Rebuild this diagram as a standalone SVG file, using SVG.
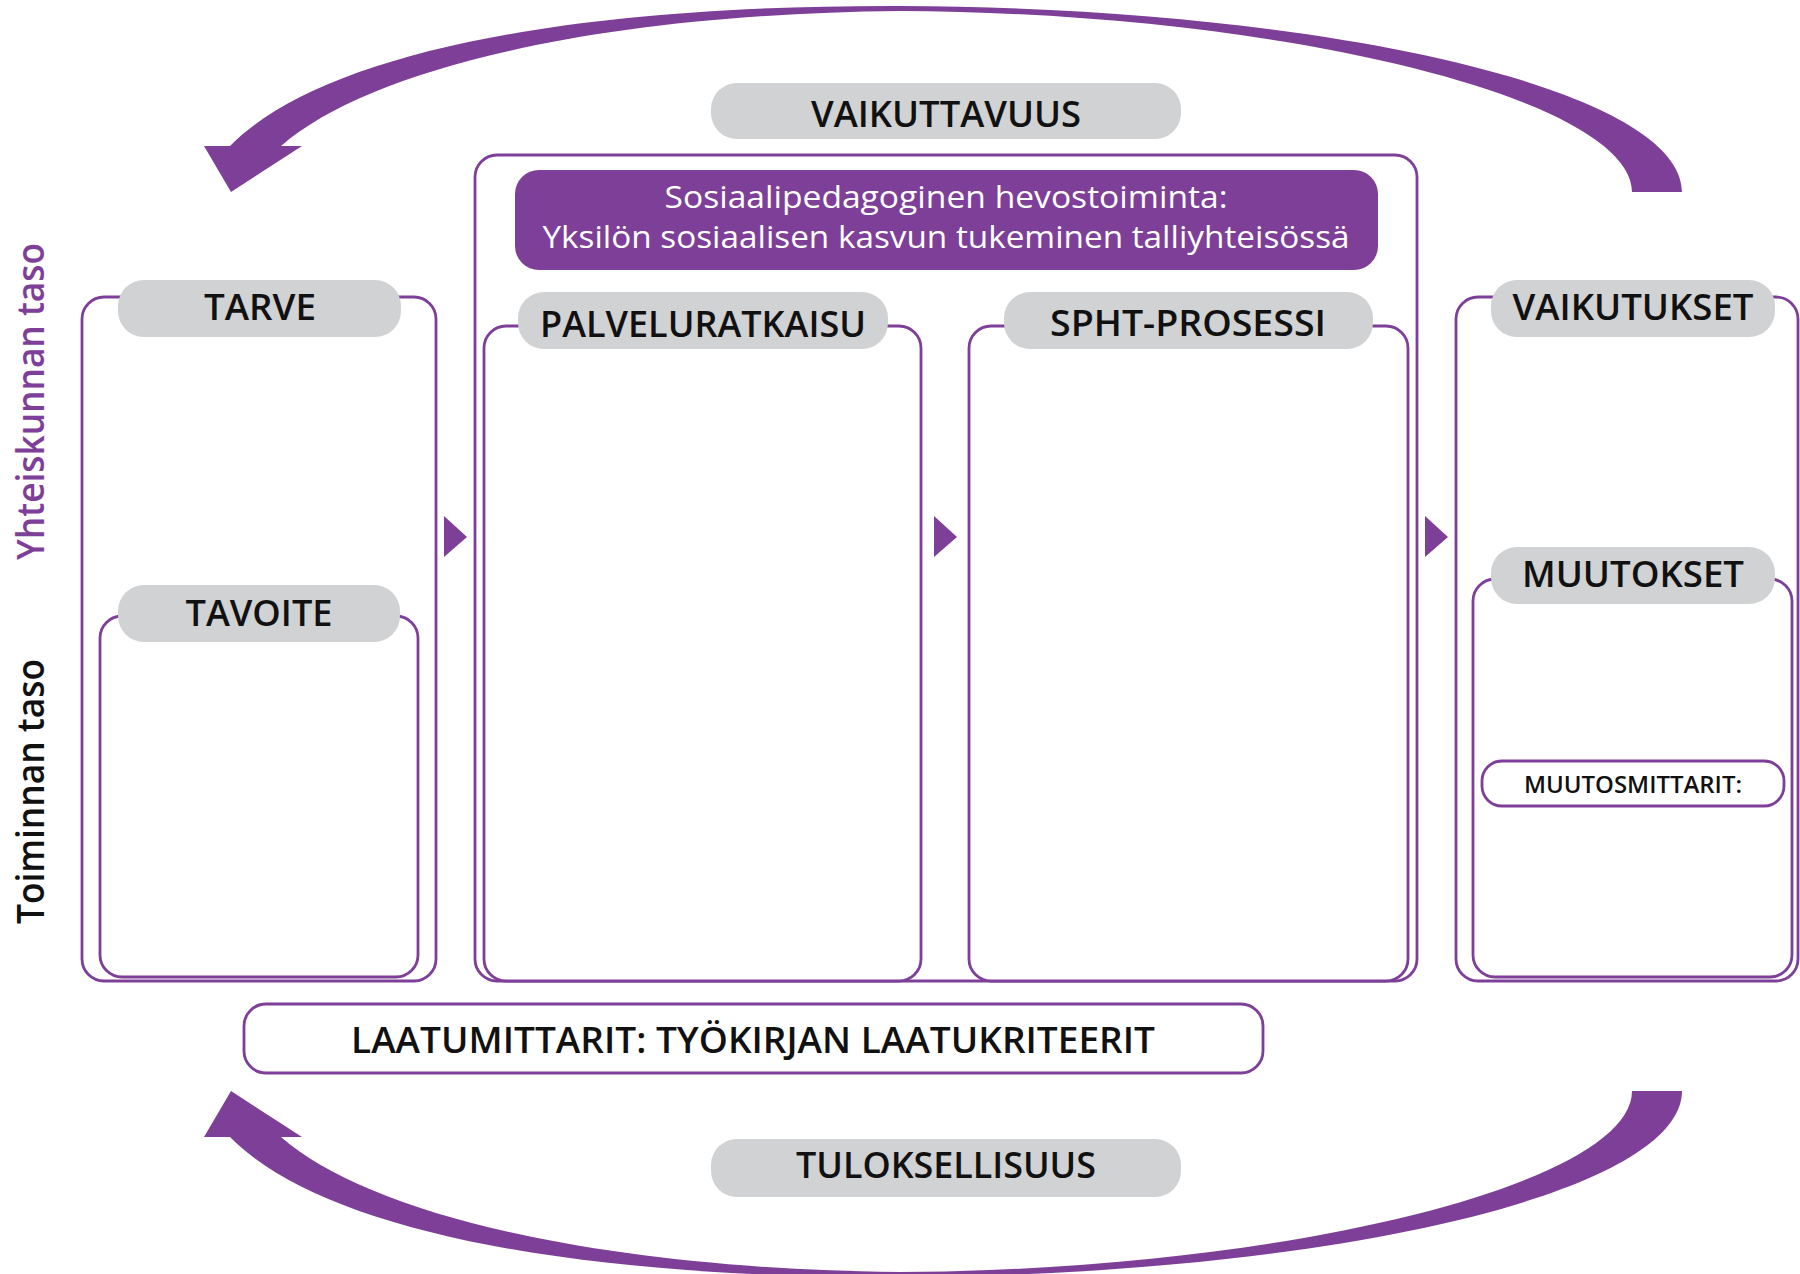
<svg xmlns="http://www.w3.org/2000/svg" xmlns:xlink="http://www.w3.org/1999/xlink" width="1800" height="1274" viewBox="0 0 1800 1274">
<style>
.frame{fill:#fff;stroke:#7E3F98;stroke-width:2.8}
.pill{fill:#D1D2D4}
.lbl{font-family:"Open Sans","Liberation Sans",sans-serif;font-weight:600;fill:#111;text-anchor:middle}
.big{font-size:36px}
.ttl{font-family:"Open Sans","Liberation Sans",sans-serif;font-size:31px;fill:#fff;text-anchor:middle}
.arr{fill:#7E3F98}
</style>
<defs>
<path id="arc" d="M 1682 192 C 1682 90 1330 8 900 6 C 560 5 320 55 230 146 L 204 146 L 231 192 L 302 146 L 281 146 C 370 68 600 14 900 11 C 1290 13 1632 100 1632 192 Z"/>
</defs>
<rect width="1800" height="1274" fill="#fff"/>

<g id="level-labels">
<text class="lbl" style="fill:#7E3F98" font-size="37" textLength="317" lengthAdjust="spacingAndGlyphs" transform="translate(44,401.5) rotate(-90)">Yhteiskunnan taso</text>
<text class="lbl" font-size="37" textLength="265" lengthAdjust="spacingAndGlyphs" transform="translate(44,791.5) rotate(-90)">Toiminnan taso</text>
</g>

<g id="vaikuttavuus">
<rect class="pill" x="711" y="83" width="470" height="56" rx="26"/>
<text class="lbl big" x="946" y="127" textLength="270" lengthAdjust="spacingAndGlyphs">VAIKUTTAVUUS</text>
</g>

<g id="tarve">
<rect class="frame" x="82" y="297" width="354" height="684" rx="22"/>
<rect class="pill" x="118" y="280" width="283" height="57" rx="26"/>
<text class="lbl big" x="260" y="320" textLength="112" lengthAdjust="spacingAndGlyphs">TARVE</text>
</g>

<g id="tavoite">
<rect class="frame" x="100" y="616" width="318" height="361" rx="22"/>
<rect class="pill" x="118" y="585" width="282" height="57" rx="26"/>
<text class="lbl big" x="259" y="626" textLength="147" lengthAdjust="spacingAndGlyphs">TAVOITE</text>
</g>

<g id="toiminta">
<rect class="frame" x="475" y="155" width="942" height="826" rx="22"/>
<rect x="515" y="170" width="863" height="100" rx="24" fill="#7E3F98"/>
<text class="ttl" x="946" y="208" textLength="563" lengthAdjust="spacingAndGlyphs">Sosiaalipedagoginen hevostoiminta:</text>
<text class="ttl" x="946" y="248" textLength="807" lengthAdjust="spacingAndGlyphs">Yksilön sosiaalisen kasvun tukeminen talliyhteisössä</text>
</g>

<g id="palveluratkaisu">
<rect class="frame" x="484" y="326" width="437" height="655" rx="22"/>
<rect class="pill" x="518" y="292" width="370" height="57" rx="26"/>
<text class="lbl big" x="703" y="337" textLength="326" lengthAdjust="spacingAndGlyphs">PALVELURATKAISU</text>
</g>

<g id="spht-prosessi">
<rect class="frame" x="969" y="326" width="439" height="655" rx="22"/>
<rect class="pill" x="1004" y="292" width="369" height="57" rx="26"/>
<text class="lbl big" x="1188" y="336" textLength="276" lengthAdjust="spacingAndGlyphs">SPHT-PROSESSI</text>
</g>

<g id="vaikutukset">
<rect class="frame" x="1456" y="297" width="342" height="684" rx="22"/>
<rect class="pill" x="1491" y="280" width="284" height="57" rx="26"/>
<text class="lbl big" x="1633" y="320" textLength="241" lengthAdjust="spacingAndGlyphs">VAIKUTUKSET</text>
</g>

<g id="muutokset">
<rect class="frame" x="1473" y="579" width="319" height="398" rx="22"/>
<rect class="pill" x="1491" y="547" width="284" height="57" rx="26"/>
<text class="lbl big" x="1633" y="587" textLength="222" lengthAdjust="spacingAndGlyphs">MUUTOKSET</text>
</g>

<g id="muutosmittarit">
<rect class="frame" x="1482" y="761" width="302" height="45" rx="20"/>
<text class="lbl" font-size="24" x="1633" y="793" textLength="218" lengthAdjust="spacingAndGlyphs">MUUTOSMITTARIT:</text>
</g>

<g id="laatumittarit">
<rect class="frame" x="244" y="1004" width="1019" height="69" rx="22"/>
<text class="lbl big" x="753" y="1053" textLength="804" lengthAdjust="spacingAndGlyphs">LAATUMITTARIT: TYÖKIRJAN LAATUKRITEERIT</text>
</g>

<g id="tuloksellisuus">
<rect class="pill" x="711" y="1139" width="470" height="58" rx="26"/>
<text class="lbl big" x="946" y="1178" textLength="300" lengthAdjust="spacingAndGlyphs">TULOKSELLISUUS</text>
</g>

<g id="connectors">
<use xlink:href="#arc" class="arr"/>
<use xlink:href="#arc" class="arr" transform="matrix(1 0 0 -1 0 1283)"/>
<polygon class="arr" points="444,516 467,537 444,557"/>
<polygon class="arr" points="934,516 957,537 934,557"/>
<polygon class="arr" points="1425,516 1448,537 1425,557"/>
</g>
</svg>
